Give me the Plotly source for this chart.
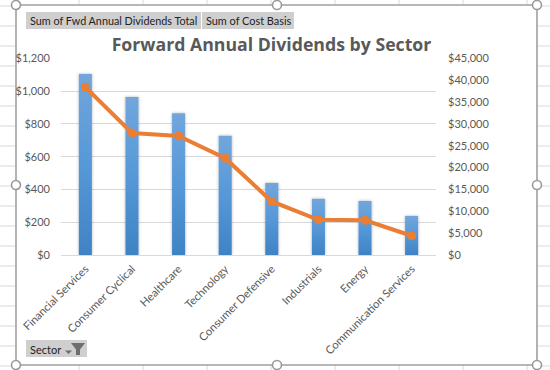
import plotly.graph_objects as go

sectors = ["Financial Services", "Consumer Cyclical", "Healthcare", "Technology",
           "Consumer Defensive", "Industrials", "Energy", "Communication Services"]
dividends = [1104, 964, 865, 727, 440, 343, 330, 238]
cost_basis = [38400, 27900, 27250, 22150, 12250, 8050, 7950, 4400]
title_text = "Forward Annual Dividends by Sector"
left_ticks = [0, 200, 400, 600, 800, 1000, 1200]
left_labels = ["$0", "$200", "$400", "$600", "$800", "$1,000", "$1,200"]
right_ticks = [0, 5000, 10000, 15000, 20000, 25000, 30000, 35000, 40000, 45000]
right_labels = ["$0", "$5,000", "$10,000", "$15,000", "$20,000", "$25,000", "$30,000", "$35,000", "$40,000", "$45,000"]

W, H = 550, 370
def px(x): return x / W
def py(y): return 1 - y / H

FONT = "Lato"
GREY = "#595959"

shapes = []
def line(x0, y0, x1, y1, color="#d9d9d9", width=1, layer="below"):
    shapes.append(dict(type="line", xref="paper", yref="paper", x0=px(x0), y0=py(y0), x1=px(x1), y1=py(y1),
                       line=dict(color=color, width=width), layer=layer))
def rect(x0, y0, x1, y1, fill, color=None, width=0, layer="below"):
    shapes.append(dict(type="rect", xref="paper", yref="paper", x0=px(x0), y0=py(y0), x1=px(x1), y1=py(y1),
                       fillcolor=fill, line=dict(color=color or fill, width=width), layer=layer))

# worksheet cells around the chart
for k in range(19):
    y = 6 + 20 * k
    line(0, y, 16, y)
    line(538, y, 550, y)
for x in [15, 79, 143, 207, 271, 335, 399, 463, 527]:
    line(x, 0, x, 5)
    line(x, 365, x, 370)

# chart frame
rect(16, 5, 537, 365, "white", "#a0a0a0", 1.6)

# pivot buttons
rect(26, 12, 201, 29, "#cfcfcf")
rect(202, 12, 294, 29, "#cfcfcf")
rect(26, 340, 87, 357, "#cfcfcf")
# dropdown arrow + funnel
for path in ["M {} {} L {} {} L {} {} Z".format(px(65), py(350.5), px(72), py(350.5), px(68.5), py(354)),
             "M {} {} L {} {} L {} {} L {} {} L {} {} L {} {} Z".format(
                 px(71), py(343), px(85), py(343), px(80), py(349.5), px(80), py(355), px(76), py(355), px(76), py(349.5))]:
    shapes.append(dict(type="path", xref="paper", yref="paper", path=path, fillcolor="#6e6e6e",
                       line=dict(width=0), layer="above"))

# selection handles
for cx, cy in [(16, 5), (277, 5), (537, 5), (16, 185), (537, 185), (16, 365), (277, 365), (537, 365)]:
    shapes.append(dict(type="circle", xref="paper", yref="paper", x0=px(cx - 4.5), x1=px(cx + 4.5),
                       y0=py(cy - 4.5), y1=py(cy + 4.5), fillcolor="white",
                       line=dict(color="#9a9a9a", width=1.6), layer="above"))

def note(x, y, text, size=10.5, color="#222222", anchor="left", **kw):
    return dict(xref="paper", yref="paper", x=px(x), y=py(y), text=text, showarrow=False,
                xanchor=anchor, yanchor="middle", font=dict(family=FONT, size=size, color=color), **kw)

annotations = [
    note(28, 21, "Sum of Fwd Annual Dividends Total", size=10.8),
    note(204, 21, "Sum of Cost Basis", size=10.9),
    note(28, 349, "Sector", size=11),
]

fig = go.Figure()
fig.add_trace(go.Bar(x=sectors, y=dividends, width=0.28, marker=dict(color="#5b9bd5", line=dict(width=0)),
                     yaxis="y", hoverinfo="skip"))
fig.add_trace(go.Scatter(x=sectors, y=cost_basis, mode="lines+markers", yaxis="y2",
                         line=dict(color="#ea7e35", width=4), marker=dict(color="#ea7e35", size=9),
                         hoverinfo="skip"))
fig.update_layout(
    width=W, height=H, margin=dict(l=0, r=0, t=0, b=0), autosize=False,
    paper_bgcolor="white", plot_bgcolor="rgba(0,0,0,0)", showlegend=False,
    font=dict(family=FONT, color=GREY, size=12),
    title=dict(text="<b>" + title_text + "</b>", x=px(271.5), xanchor="center", y=py(45), yanchor="middle",
               font=dict(family="Open Sans", size=17.7, color=GREY)),
    xaxis=dict(domain=[px(61), px(436)], type="category", tickangle=-45, showgrid=False, showline=True,
               linecolor="#d9d9d9", ticks="", ticklabelstandoff=2,
               tickfont=dict(family=FONT, size=11.2, color=GREY), automargin=False),
    yaxis=dict(domain=[py(255), py(58.3)], range=[0, 1200], tickvals=left_ticks, ticktext=left_labels,
               gridcolor="#d9d9d9", gridwidth=1, zeroline=False, showline=False, ticks="", ticklabelstandoff=10,
               tickfont=dict(family=FONT, size=11, color=GREY), automargin=False),
    yaxis2=dict(domain=[py(255), py(58.3)], overlaying="y", side="right", range=[0, 45000], tickvals=right_ticks,
                ticktext=right_labels, showgrid=False, zeroline=False, showline=False, ticks="",
                ticklabelstandoff=11, tickfont=dict(family=FONT, size=11, color=GREY), automargin=False),
    shapes=shapes, annotations=annotations,
)

post = """
document.body.style.margin='0';document.body.style.overflow='hidden';
var svg=document.querySelector('.main-svg');
var ns='http://www.w3.org/2000/svg';
var defs=document.createElementNS(ns,'defs');
defs.innerHTML='<linearGradient id="bargrad" x1="0" y1="0" x2="0" y2="1" gradientUnits="objectBoundingBox"><stop offset="0" stop-color="#72a6dc"/><stop offset="0.5" stop-color="#5698d8"/><stop offset="1" stop-color="#3f83c4"/></linearGradient><filter id="barshadow" x="-60%" y="-5%" width="220%" height="110%"><feDropShadow dx="0" dy="0" stdDeviation="1.6" flood-color="#000" flood-opacity="0.3"/></filter>';
svg.insertBefore(defs,svg.firstChild);
document.querySelectorAll('.bars .point path').forEach(function(p){p.style.fill='url(#bargrad)';p.setAttribute('filter','url(#barshadow)');});
"""
fig.write_html("out.html", post_script=post, config=dict(displayModeBar=False))
